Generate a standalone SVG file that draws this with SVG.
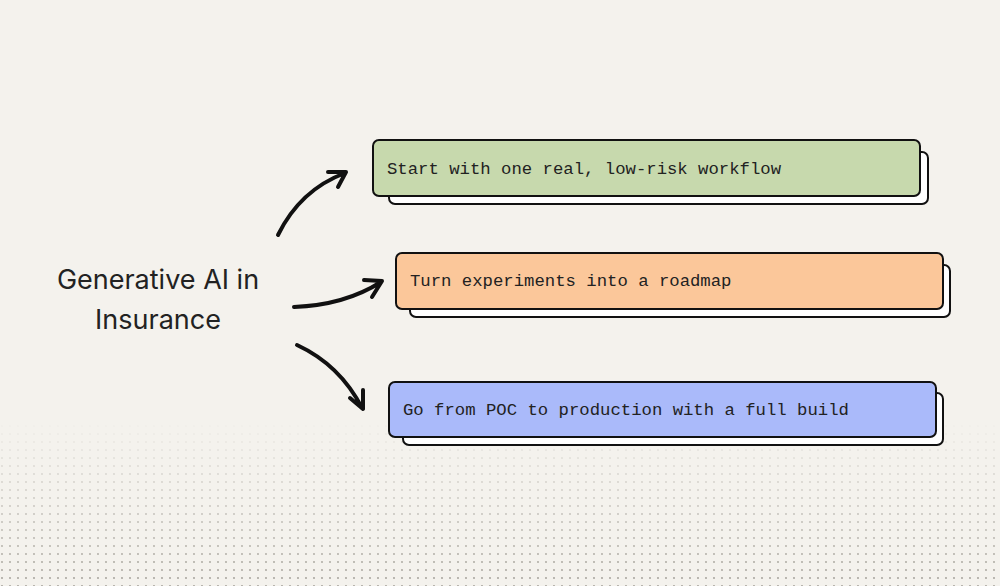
<svg xmlns="http://www.w3.org/2000/svg" width="1000" height="586" viewBox="0 0 1000 586">
<defs>
<style>
.box{stroke:#111;stroke-width:2}
.sh{fill:#fff;stroke:#111;stroke-width:2}
.t{font-family:"Liberation Mono",monospace;font-size:17.3px;fill:#222}
.c{fill:none;stroke:#111;stroke-width:4;stroke-linecap:round;stroke-linejoin:round}
</style>
<pattern id="dots" width="8" height="8" patternUnits="userSpaceOnUse"><circle cx="2" cy="2" r="0.9" fill="#9a968e"/></pattern>
<linearGradient id="fade" x1="0" y1="0" x2="0" y2="1"><stop offset="0" stop-color="#fff" stop-opacity="0"/><stop offset="1" stop-color="#fff" stop-opacity="1"/></linearGradient>
<mask id="m"><rect x="0" y="420" width="1000" height="166" fill="url(#fade)"/></mask>
</defs>
<rect width="1000" height="586" fill="#f4f2ed"/>
<rect x="0" y="420" width="1000" height="166" fill="url(#dots)" mask="url(#m)"/>
<g id="title"><text x="158" y="289" text-anchor="middle" font-family="Inter,sans-serif" font-size="27" fill="#222">Generative AI in</text><text x="158" y="329" text-anchor="middle" font-family="Inter,sans-serif" font-size="27" fill="#222">Insurance</text></g>
<g id="n1"><rect class="sh" x="389" y="152" width="539" height="52" rx="6"/><rect class="box" x="373" y="140" width="547" height="56" rx="6" fill="#c7d9ad"/><text class="t" x="387" y="174">Start with one real, low-risk workflow</text></g>
<g id="n2"><rect class="sh" x="410" y="265" width="540" height="52" rx="6"/><rect class="box" x="396" y="253" width="547" height="56" rx="6" fill="#fbc79a"/><text class="t" x="410" y="286">Turn experiments into a roadmap</text></g>
<g id="n3"><rect class="sh" x="403" y="393" width="540" height="52" rx="6"/><rect class="box" x="389" y="382" width="547" height="55" rx="6" fill="#aabafa"/><text class="t" x="403" y="415">Go from POC to production with a full build</text></g>
<g id="connectors">
<path class="c" d="M278 235 Q300 190 345 173 M328 172 L346 172 L338 187"/>
<path class="c" d="M294 307 Q345 305 381 282 M364 280 L382 281 L372 297"/>
<path class="c" d="M297 345 Q340 365 362 408 M350 398 L363 409 L363 390"/>
</g>
</svg>
